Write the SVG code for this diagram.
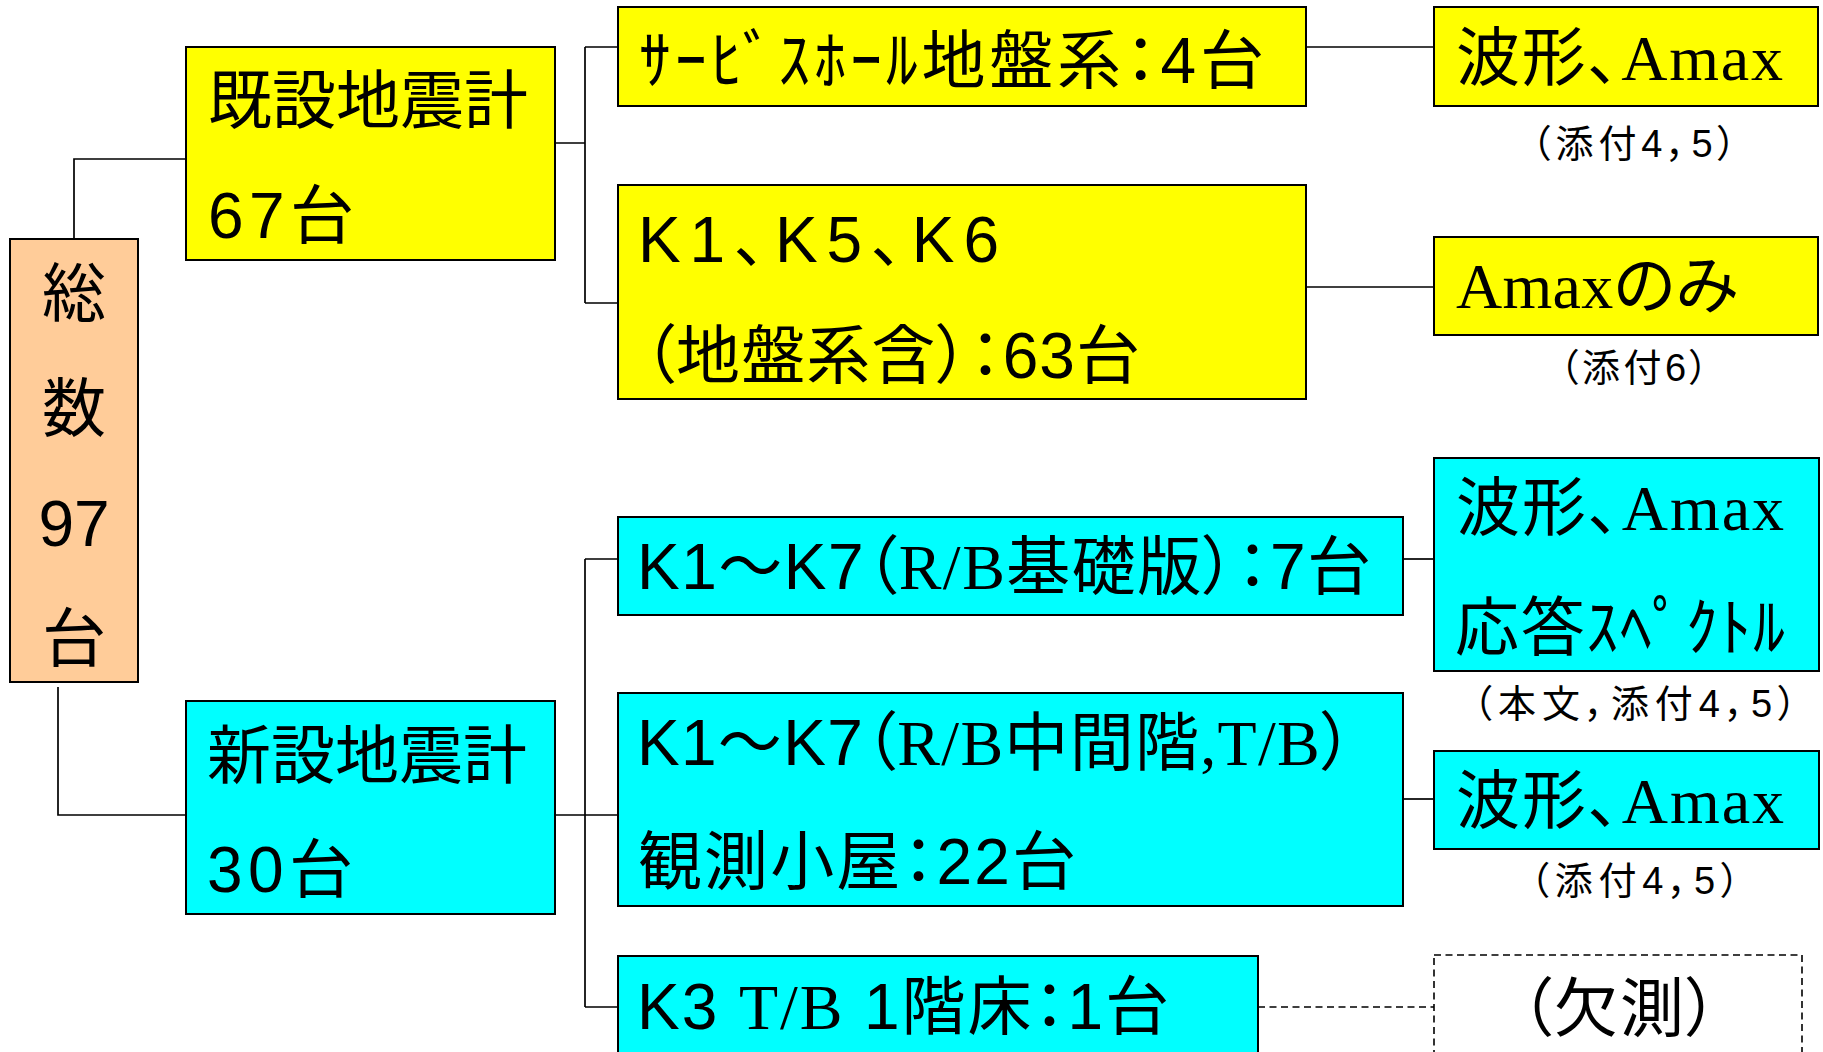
<svg xmlns="http://www.w3.org/2000/svg" width="1823" height="1052" viewBox="0 0 1823 1052">
<style>
.box{stroke:#000;stroke-width:2}
.y{fill:#FFFF00}
.c{fill:#00FFFF}
.p{fill:#FFCC99}
.dash{fill:none;stroke:#000;stroke-width:1.6;stroke-dasharray:7 4.5}
.ln{fill:none;stroke:#000;stroke-width:1.7}
.t{font-family:"Liberation Sans","Noto Sans CJK JP",sans-serif;font-size:64px;fill:#000;font-feature-settings:"palt"}
.cap{font-family:"Liberation Sans","Noto Sans CJK JP",sans-serif;font-size:38px;fill:#000;font-feature-settings:"palt";text-anchor:middle}
.s{font-family:"Liberation Serif","Noto Sans CJK JP",serif}
.m{text-anchor:middle}
</style>
<rect width="1823" height="1052" fill="#fff"/>
<g id="connectors">
<path class="ln" d="M74,239 V159 H186"/>
<path class="ln" d="M58,687 V815 H186"/>
<path class="ln" d="M555,143 H585 M585,47 V303 M585,47 H618 M585,303 H618"/>
<path class="ln" d="M1306,47 H1434"/>
<path class="ln" d="M1306,287 H1434"/>
<path class="ln" d="M555,815 H618 M585,559 V1007 M585,559 H618 M585,1007 H618"/>
<path class="ln" d="M1403,559 H1434"/>
<path class="ln" d="M1403,799 H1434"/>
<path class="dash" d="M1258,1007 H1434"/>
</g>
<g id="total">
<rect class="box p" x="10" y="239" width="128" height="443"/>
<text class="t m" x="74" y="316">総</text>
<text class="t m" x="74" y="431">数</text>
<text class="t m" x="74" y="546">97</text>
<text class="t m" x="74" y="661">台</text>
</g>
<g id="existing">
<rect class="box y" x="186" y="47" width="369" height="213"/>
<text class="t" x="208" y="123" textLength="320">既設地震計</text>
<text class="t" x="208" y="238" textLength="146">67台</text>
</g>
<g id="new">
<rect class="box c" x="186" y="701" width="369" height="213"/>
<text class="t" x="207" y="778" textLength="320">新設地震計</text>
<text class="t" x="207" y="892" textLength="146">30台</text>
</g>
<g id="servicehall">
<rect class="box y" x="618" y="7" width="688" height="99"/>
<text class="t" x="639" y="83" textLength="625">ｻｰﾋﾞｽﾎｰﾙ地盤系：4台</text>
</g>
<g id="k156">
<rect class="box y" x="618" y="185" width="688" height="214"/>
<text class="t" x="638" y="262" textLength="361">K1、K5、K6</text>
<text class="t" x="643" y="378" textLength="497">（地盤系含）：63台</text>
</g>
<g id="wave1">
<rect class="box y" x="1434" y="7" width="384" height="99"/>
<text class="t" x="1456" y="80" textLength="327">波形、<tspan class="s">Amax</tspan></text>
<text class="cap" x="1634" y="157" textLength="205">（添付4，5）</text>
</g>
<g id="amaxonly">
<rect class="box y" x="1434" y="237" width="384" height="98"/>
<text class="t" x="1456" y="308" textLength="282"><tspan class="s">Amax</tspan>のみ</text>
<text class="cap" x="1634" y="381" textLength="149">（添付6）</text>
</g>
<g id="rbbase">
<rect class="box c" x="618" y="517" width="785" height="98"/>
<text class="t" x="637" y="589" textLength="734">K1～K7（<tspan class="s">R/B</tspan>基礎版）：7台</text>
</g>
<g id="rbmid">
<rect class="box c" x="618" y="693" width="785" height="213"/>
<text class="t" x="637" y="765" textLength="716">K1～K7（<tspan class="s">R/B</tspan>中間階<tspan class="s">,T/B</tspan>）</text>
<text class="t" x="638" y="884" textLength="438">観測小屋：22台</text>
</g>
<g id="k3tb">
<rect class="box c" x="618" y="956" width="640" height="120"/>
<text class="t" x="637" y="1029" textLength="532">K3 <tspan class="s">T/B</tspan> 1階床：1台</text>
</g>
<g id="wave2">
<rect class="box c" x="1434" y="458" width="385" height="213"/>
<text class="t" x="1456" y="530" textLength="328">波形、<tspan class="s">Amax</tspan></text>
<text class="t" x="1455" y="650" textLength="330">応答ｽﾍﾟｸﾄﾙ</text>
<text class="cap" x="1635" y="717" textLength="324">（本文，添付4，5）</text>
</g>
<g id="wave3">
<rect class="box c" x="1434" y="751" width="385" height="98"/>
<text class="t" x="1456" y="823" textLength="328">波形、<tspan class="s">Amax</tspan></text>
<text class="cap" x="1635" y="894" textLength="210">（添付4，5）</text>
</g>
<g id="missing">
<rect class="dash" x="1434" y="955" width="368" height="120"/>
<text class="t m" x="1619" y="1031" textLength="198">（欠測）</text>
</g>
</svg>
